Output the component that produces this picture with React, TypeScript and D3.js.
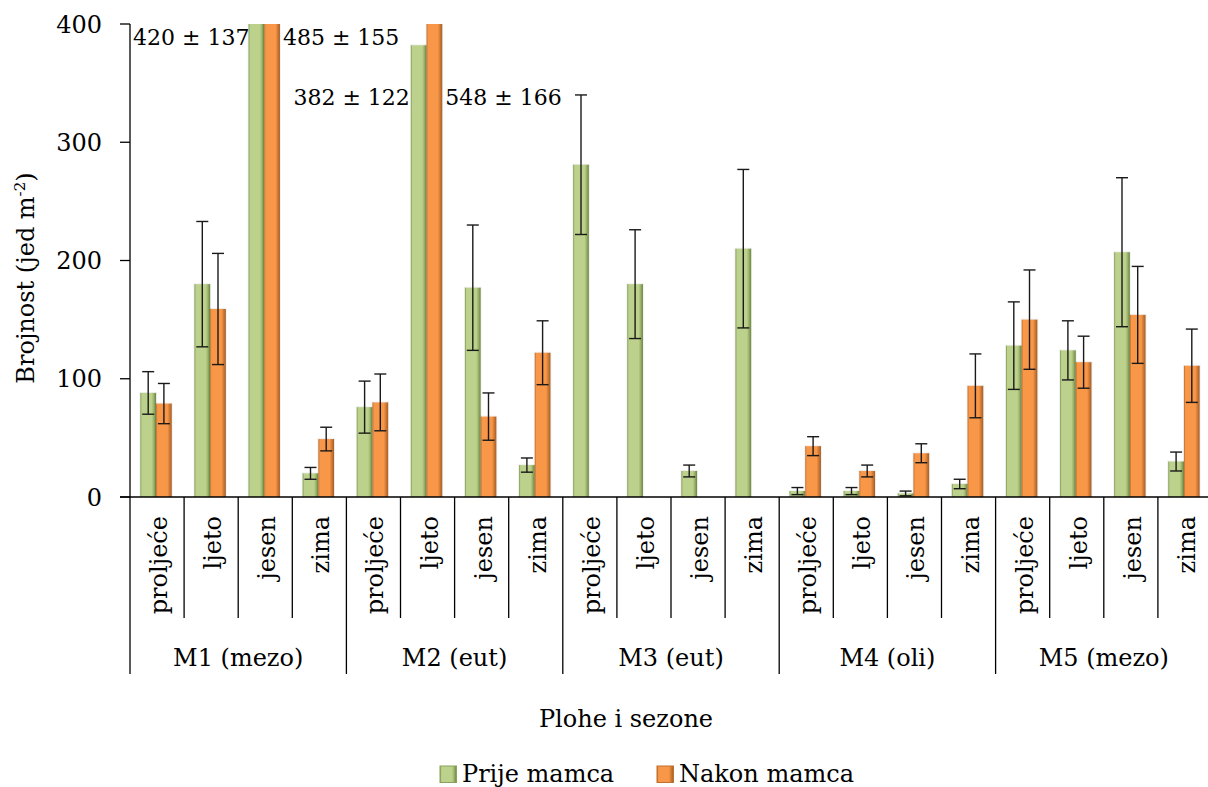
import React from "react";
import * as d3 from "d3";

const groups = ["M1 (mezo)", "M2 (eut)", "M3 (eut)", "M4 (oli)", "M5 (mezo)"];
const seasons = ["proljeće", "ljeto", "jesen", "zima"];
const seriesNames = ["Prije mamca", "Nakon mamca"];
const prije: (number | null)[] = [88, 180, 420, 20, 76, 382, 177, 27, 281, 180, 22, 210, 5, 5, 3, 11, 128, 124, 207, 30];
const prijeErr: (number | null)[] = [18, 53, null, 5, 22, null, 53, 6, 59, 46, 5, 67, 3, 3, 2, 4, 37, 25, 63, 8];
const nakon: (number | null)[] = [79, 159, 485, 49, 80, 548, 68, 122, null, null, null, null, 43, 22, 37, 94, 150, 114, 154, 111];
const nakonErr: (number | null)[] = [17, 47, null, 10, 24, null, 20, 27, null, null, null, null, 8, 5, 8, 27, 42, 22, 41, 31];
const yTicks = [0, 100, 200, 300, 400];
const notes = [
  { text: "420 ± 137", cat: 2, side: "axis", level: 400 },
  { text: "485 ± 155", cat: 2, side: "after", level: 400 },
  { text: "382 ± 122", cat: 5, side: "before", level: 349 },
  { text: "548 ± 166", cat: 5, side: "after", level: 349 },
];

const W = 1208, H = 787;
const FONT = "'DejaVu Serif', serif";
const left = 130, right = 1212, top = 24, bottom = 497;

export default function App() {
  const cats = d3.range(groups.length * seasons.length);
  const x = d3.scaleBand<number>().domain(cats).range([left, right]).padding(0);
  const y = d3.scaleLinear().domain([0, 400]).range([bottom, top]);
  const bw = x.bandwidth();
  const barW = 15.7;
  const series = [
    { vals: prije, errs: prijeErr, grad: "gGreen", off: -1 - barW },
    { vals: nakon, errs: nakonErr, grad: "gOrange", off: -1 },
  ];
  const cx = (i: number) => (x(i) as number) + bw / 2;

  return (
    <svg width={W} height={H} style={{ display: "block", position: "absolute", left: 0, top: 0 }} fontFamily={FONT}>
      <defs>
        <linearGradient id="gGreen" x1="0" x2="1" y1="0" y2="0">
          <stop offset="0" stopColor="#7f9751" />
          <stop offset="0.1" stopColor="#bcd28c" />
          <stop offset="0.72" stopColor="#bcd28c" />
          <stop offset="0.84" stopColor="#9fb66d" />
          <stop offset="1" stopColor="#6d8442" />
        </linearGradient>
        <linearGradient id="gOrange" x1="0" x2="1" y1="0" y2="0">
          <stop offset="0" stopColor="#b86a2c" />
          <stop offset="0.1" stopColor="#f99748" />
          <stop offset="0.72" stopColor="#f99748" />
          <stop offset="0.84" stopColor="#d57d37" />
          <stop offset="1" stopColor="#a35e27" />
        </linearGradient>
        <clipPath id="plotClip">
          <rect x={left} y={top} width={right - left} height={bottom - top} />
        </clipPath>
      </defs>
      <rect width={W} height={H} fill="#fff" />

      {/* bars */}
      <g clipPath="url(#plotClip)">
        {series.map((s, si) =>
          cats.map((i) => {
            const v = s.vals[i];
            if (v == null) return null;
            const yt = y(Math.min(v, 400));
            return (
              <g key={`b${si}-${i}`}>
                <rect x={cx(i) + s.off - 1} y={yt - 1} width={barW + 2} height={bottom - yt + 1} fill="#000" opacity={0.06} />
                <rect x={cx(i) + s.off} y={yt} width={barW} height={bottom - yt} fill={`url(#${s.grad})`} />
              </g>
            );
          })
        )}
      </g>
      {/* error bars */}
      {series.map((s, si) =>
        cats.map((i) => {
          const v = s.vals[i];
          const e = s.errs[i];
          if (v == null || e == null) return null;
          const xc = cx(i) + s.off + barW / 2;
          const y1 = y(v + e), y2 = y(v - e);
          return (
            <g key={`e${si}-${i}`} stroke="#1a1a1a" strokeWidth={1.4}>
              <line x1={xc} x2={xc} y1={y1} y2={y2} />
              <line x1={xc - 6} x2={xc + 6} y1={y1} y2={y1} />
              <line x1={xc - 6} x2={xc + 6} y1={y2} y2={y2} />
            </g>
          );
        })
      )}

      {/* y axis */}
      <line x1={left} x2={left} y1={top} y2={bottom} stroke="#000" strokeWidth={1.3} />
      {yTicks.map((t) => (
        <g key={t}>
          <line x1={left - 10} x2={left} y1={y(t)} y2={y(t)} stroke="#000" strokeWidth={1.3} />
          <text x={102} y={y(t)} dy="0.36em" textAnchor="end" fontSize={24} fill="#000">{t}</text>
        </g>
      ))}
      {/* x axis */}
      <line x1={left - 10} x2={right} y1={bottom} y2={bottom} stroke="#000" strokeWidth={1.3} />
      {cats.map((i) => (
        <line key={`sep${i}`} x1={x(i) as number} x2={x(i) as number} y1={bottom} y2={i % 4 === 0 ? 674 : 618} stroke="#000" strokeWidth={1.3} />
      ))}
      <line x1={right} x2={right} y1={bottom} y2={674} stroke="#000" strokeWidth={1.3} />
      {cats.map((i) => (
        <text key={`s${i}`} transform={`translate(${cx(i) + 10},516) rotate(-90)`} textAnchor="end" fontSize={24} fill="#000">
          {seasons[i % 4]}
        </text>
      ))}
      {groups.map((g, gi) => {
        const x0 = x(gi * 4) as number;
        const x1 = (x(gi * 4 + 3) as number) + bw;
        return (
          <text key={g} x={(x0 + x1) / 2} y={666} textAnchor="middle" fontSize={24} fill="#000">{g}</text>
        );
      })}

      {/* annotations */}
      {notes.map((n) => {
        const ny = y(n.level) + 21;
        let nx: number, anchor: string;
        if (n.side === "axis") { nx = left + 3; anchor = "start"; }
        else if (n.side === "after") { nx = cx(n.cat) + 14.7 + 3; anchor = "start"; }
        else { nx = cx(n.cat) - 1 - barW - 1; anchor = "end"; }
        return (
          <text key={n.text} x={nx} y={ny} textAnchor={anchor} fontSize={22} fill="#000">{n.text}</text>
        );
      })}

      {/* axis titles */}
      <text transform="translate(34,278) rotate(-90)" textAnchor="middle" fontSize={24} fill="#000">
        Brojnost (jed m<tspan fontSize={15} dy={-9}>-2</tspan><tspan dy={9}>)</tspan>
      </text>
      <text x={626} y={727} textAnchor="middle" fontSize={24} fill="#000">Plohe i sezone</text>

      {/* legend */}
      {seriesNames.map((nm, k) => {
        const lx = k === 0 ? 440 : 657;
        return (
          <g key={nm}>
            <rect x={lx} y={766} width={16.5} height={16.5} fill={`url(#${k === 0 ? "gGreen" : "gOrange"})`} stroke={k === 0 ? "#8aa25a" : "#c0702f"} strokeWidth={1} />
            <text x={lx + 22} y={782} fontSize={24} fill="#000">{nm}</text>
          </g>
        );
      })}
    </svg>
  );
}
